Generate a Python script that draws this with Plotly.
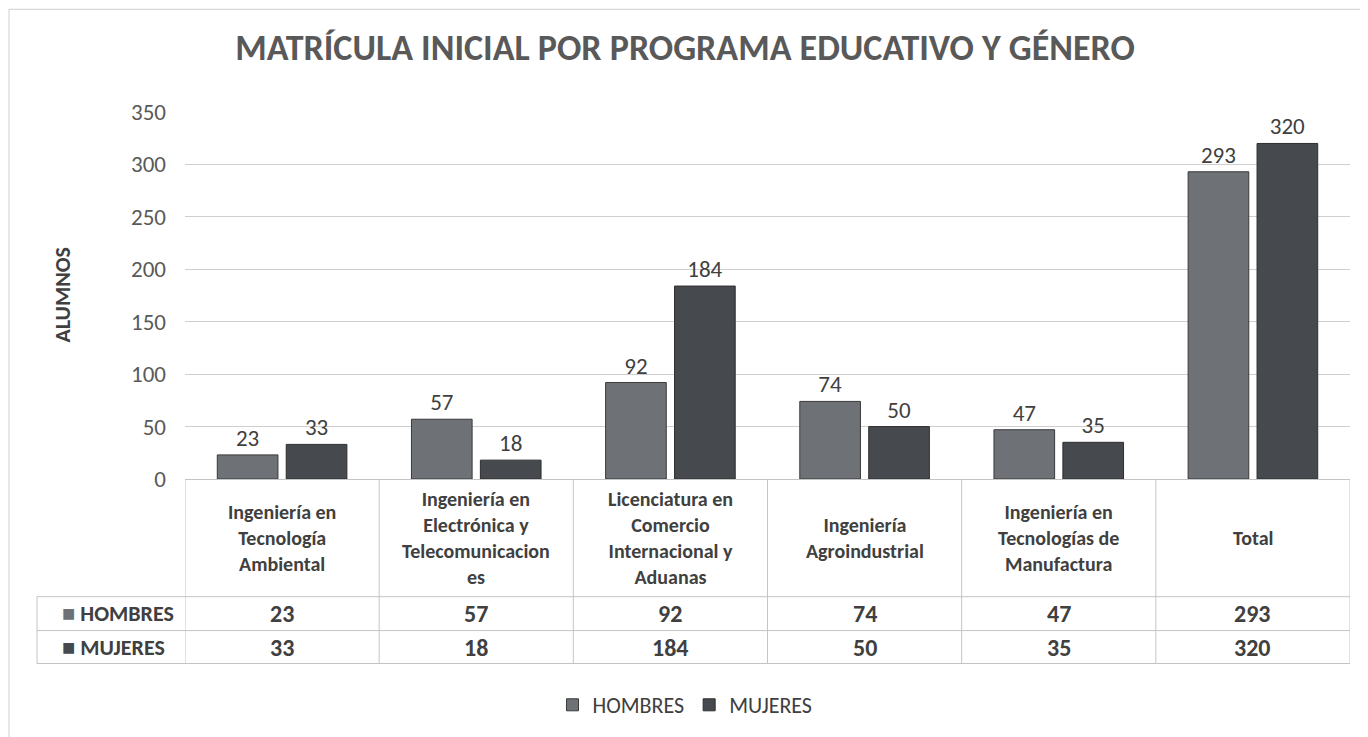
import plotly.graph_objects as go

programas = [
    "Ingeniería en<br>Tecnología<br>Ambiental",
    "Ingeniería en<br>Electrónica y<br>Telecomunicacion<br>es",
    "Licenciatura en<br>Comercio<br>Internacional y<br>Aduanas",
    "Ingeniería<br>Agroindustrial",
    "Ingeniería en<br>Tecnologías de<br>Manufactura",
    "Total",
]
hombres = [23, 57, 92, 74, 47, 293]
mujeres = [33, 18, 184, 50, 35, 320]
y_ticks = [0, 50, 100, 150, 200, 250, 300, 350]

COL_H = "#6e7176"
COL_M = "#46494e"
FONT = "Carlito, Lato, sans-serif"
TXT = "#404040"
GRID = "#cfcfcf"

# page body has an 8px margin, so the figure starts at (8, 8) on screen
O = 8
FW, FH = 1360, 729
L, R, T, B = 185, 1350, 112, 480   # plot area on screen


def px_x(p):
    return (p - L) / (R - L)


def px_y(p):
    return (B - p) / (B - T)


cats = list(range(len(programas)))

fig = go.Figure()
fig.add_trace(go.Bar(
    x=cats, y=hombres, name="HOMBRES",
    marker={"color": COL_H, "line": {"color": "#3a3a3a", "width": 1}},
    text=hombres, textposition="outside", cliponaxis=False,
    textfont={"size": 23, "color": TXT, "family": FONT},
))
fig.add_trace(go.Bar(
    x=cats, y=mujeres, name="MUJERES",
    marker={"color": COL_M, "line": {"color": "#2e2e2e", "width": 1}},
    text=mujeres, textposition="outside", cliponaxis=False,
    textfont={"size": 23, "color": TXT, "family": FONT},
))

# data table under the chart
header_bottom, row1_bottom, row2_bottom = 598, 632, 665
shapes = []
line = {"color": "#c4c4c4", "width": 1}
for i in range(len(programas) + 1):
    shapes.append(dict(type="line", xref="x", yref="paper",
                       x0=i - 0.5, x1=i - 0.5, y0=px_y(B), y1=px_y(row2_bottom), line=line))
for yy in (header_bottom, row1_bottom, row2_bottom):
    shapes.append(dict(type="line", xref="paper", yref="paper",
                       x0=px_x(37), x1=1, y0=px_y(yy), y1=px_y(yy), line=line))
shapes.append(dict(type="line", xref="paper", yref="paper",
                   x0=px_x(37), x1=px_x(37), y0=px_y(header_bottom), y1=px_y(row2_bottom), line=line))
# outer chart border
shapes.append(dict(type="rect", xref="paper", yref="paper",
                   x0=px_x(9), x1=px_x(1366), y0=px_y(9), y1=px_y(745),
                   line={"color": "#cfcfcf", "width": 1}))

annotations = []
for i, name in enumerate(programas):
    annotations.append(dict(x=i, y=px_y((B + header_bottom) / 2), xref="x", yref="paper",
                            yanchor="middle", text=f"<b>{name}</b>", showarrow=False,
                            align="center",
                            font={"size": 20, "color": TXT, "family": FONT}))
    annotations.append(dict(x=i, y=px_y((header_bottom + row1_bottom) / 2), xref="x", yref="paper",
                            yanchor="middle", text=f"<b>{hombres[i]}</b>", showarrow=False,
                            font={"size": 24, "color": TXT, "family": FONT}))
    annotations.append(dict(x=i, y=px_y((row1_bottom + row2_bottom) / 2), xref="x", yref="paper",
                            yanchor="middle", text=f"<b>{mujeres[i]}</b>", showarrow=False,
                            font={"size": 24, "color": TXT, "family": FONT}))

for label, color, top, bottom in (("HOMBRES", COL_H, header_bottom, row1_bottom),
                                  ("MUJERES", COL_M, row1_bottom, row2_bottom)):
    annotations.append(dict(x=px_x(60), y=px_y((top + bottom) / 2), xref="paper", yref="paper",
                            xanchor="left", yanchor="middle",
                            text=f"<span style='color:{color}'>■</span> <b>{label}</b>",
                            showarrow=False, font={"size": 22, "color": TXT, "family": FONT}))

annotations.append(dict(x=px_x(62), y=px_y(296), xref="paper", yref="paper",
                        xanchor="center", yanchor="middle",
                        text="<b>ALUMNOS</b>", textangle=-90, showarrow=False,
                        font={"size": 22, "color": TXT, "family": FONT}))

fig.update_layout(
    width=FW, height=FH,
    margin={"l": L - O, "r": O + FW - R, "t": T - O, "b": O + FH - B},
    paper_bgcolor="white", plot_bgcolor="white",
    title={"text": "<b>MATRÍCULA INICIAL POR PROGRAMA EDUCATIVO Y GÉNERO</b>",
           "x": (685 - O) / FW, "xanchor": "center",
           "y": 1 - (47 - O) / FH, "yanchor": "middle",
           "font": {"size": 36, "color": "#595959", "family": FONT}},
    barmode="group", bargap=0.29, bargroupgap=0.12,
    showlegend=True,
    legend={"orientation": "h", "x": px_x(685), "xanchor": "center",
            "y": px_y(705), "yanchor": "middle",
            "font": {"size": 22, "color": TXT, "family": FONT}},
    shapes=shapes, annotations=annotations,
    font={"family": FONT},
)
fig.update_xaxes(range=[-0.5, len(programas) - 0.5], showticklabels=False,
                 showgrid=False, showline=True, linecolor="#c4c4c4", zeroline=False)
fig.update_yaxes(range=[0, 350], tickvals=y_ticks, gridcolor=GRID, zeroline=False,
                 showline=False, ticklabelstandoff=18,
                 tickfont={"size": 23, "color": "#595959", "family": FONT})

fig.write_html("out.html")
